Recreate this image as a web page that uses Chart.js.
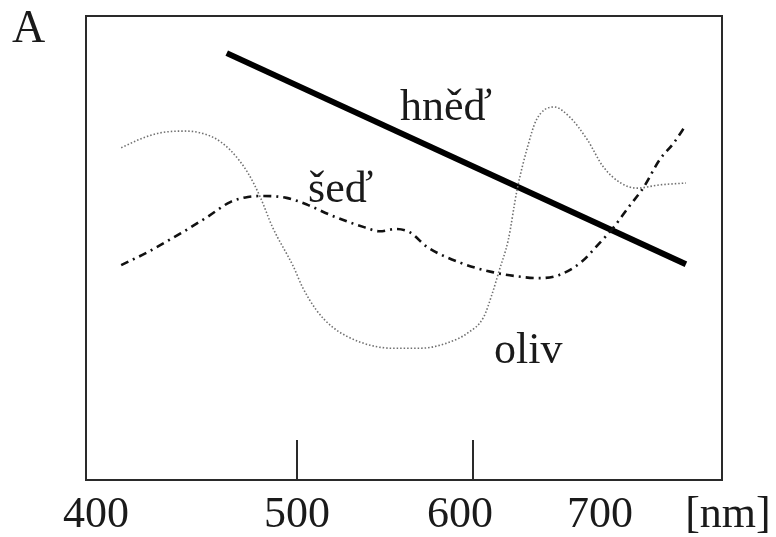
<!DOCTYPE html>
<html>
<head>
<meta charset="utf-8">
<script src="https://cdn.jsdelivr.net/npm/chart.js@4/dist/chart.umd.min.js"></script>
<style>
html,body{margin:0;padding:0;background:#fff;}
#wrap{width:776px;height:537px;position:relative;}
</style>
</head>
<body>
<div id="wrap"><canvas id="c" width="776" height="537"></canvas></div>
<script>
// ---- data (wavelength in nm, relative reflectance in arbitrary units 0-100) ----
const hnedNm   = [460, 721];
const hnedVal  = [92.0, 46.5];

const sedNm    = [400,415,434,449,462,472,481,494,506,519,538,547,556,564,574,593,611,627,638,649,661,672,680,688,697,706,714,721];
const sedVal   = [46.3,49.1,53.2,56.7,59.9,61.0,61.2,60.8,59.3,57.1,54.5,53.6,54.1,53.4,50.2,46.8,44.8,43.8,43.5,44.2,46.8,51.1,54.5,58.6,63.1,69.0,72.6,76.5];

const olivNm   = [400,411,422,436,452,462,472,479,486,498,503,511,520,536,554,570,585,597,606,611,615,620,625,631,636,646,655,665,674,684,693,706,721];
const olivVal  = [71.6,73.5,74.8,75.2,73.9,71.1,66.2,61.0,54.5,45.9,41.6,36.6,33.0,29.7,28.4,28.4,29.5,31.7,35.1,40.3,45.3,51.7,62.5,71.8,77.6,80.4,78.2,73.3,67.5,64.0,62.9,63.6,64.0];

const tickLabels   = ['400','500','600','700','[nm]'];
const tickLabelAt  = [385.7, 500, 592.6, 672.2, 744.9];   // nm where each label is centred
const tickMarksAt  = [500, 600];                           // inner tick marks

const seriesNames  = ['hněď','šeď','oliv'];
const nameAtNm     = [558.5, 506.2, 611.9];
const nameAtVal    = [77.6, 59.9, 25.2];
const panelLetter  = 'A';

const pts = (xs, ys) => xs.map((x, i) => ({x: x, y: ys[i]}));
const SERIF = '"Liberation Serif","DejaVu Serif","Times New Roman",serif';

const decor = {
  id: 'decor',
  afterDraw(chart) {
    const ctx = chart.ctx, a = chart.chartArea;
    const xs = chart.scales.x, ys = chart.scales.y;
    ctx.save();
    // frame
    ctx.strokeStyle = '#2a2a2a';
    ctx.lineWidth = 2;
    ctx.strokeRect(a.left, a.top, a.right - a.left, a.bottom - a.top);
    // inner tick marks
    ctx.lineWidth = 2;
    tickMarksAt.forEach(v => {
      const px = Math.round(xs.getPixelForValue(v));
      ctx.beginPath();
      ctx.moveTo(px, a.bottom);
      ctx.lineTo(px, a.bottom - 40);
      ctx.stroke();
    });
    // tick labels
    ctx.fillStyle = '#1a1a1a';
    ctx.font = '44px ' + SERIF;
    ctx.textAlign = 'center';
    ctx.textBaseline = 'alphabetic';
    tickLabels.forEach((t, i) => {
      ctx.fillText(t, xs.getPixelForValue(tickLabelAt[i]), a.bottom + 47);
    });
    // series names
    ctx.textAlign = 'left';
    seriesNames.forEach((t, i) => {
      ctx.fillText(t, xs.getPixelForValue(nameAtNm[i]), ys.getPixelForValue(nameAtVal[i]));
    });
    // panel letter
    ctx.font = '46px ' + SERIF;
    ctx.fillText(panelLetter, 12, 42);
    ctx.restore();
  }
};

new Chart(document.getElementById('c'), {
  type: 'line',
  data: {
    datasets: [
      { label: seriesNames[2], data: pts(olivNm, olivVal), borderColor: '#707070', borderWidth: 1.6,
        borderDash: [1.5, 2], pointRadius: 0, cubicInterpolationMode: 'monotone', fill: false },
      { label: seriesNames[1], data: pts(sedNm, sedVal), borderColor: '#111', borderWidth: 2.6,
        borderDash: [8, 5, 2, 5], pointRadius: 0, cubicInterpolationMode: 'monotone', fill: false },
      { label: seriesNames[0], data: pts(hnedNm, hnedVal), borderColor: '#000', borderWidth: 6,
        pointRadius: 0, tension: 0, fill: false, borderCapStyle: 'butt' }
    ]
  },
  options: {
    responsive: false,
    animation: false,
    devicePixelRatio: 1,
    layout: { padding: { left: 86, right: 54, top: 16, bottom: 57 } },
    plugins: { legend: { display: false }, tooltip: { enabled: false } },
    scales: {
      x: { type: 'linear', min: 380, max: 741.5, display: false },
      y: { type: 'linear', min: 0, max: 100, display: false }
    }
  },
  plugins: [decor]
});
</script>
</body>
</html>
